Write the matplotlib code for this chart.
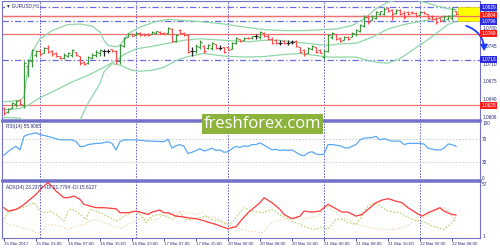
import matplotlib
matplotlib.use('Agg')
import matplotlib.pyplot as plt
from matplotlib.patches import Rectangle, FancyArrowPatch

# ---------------- data ----------------
opens = [1.0623,1.0614,1.0623,1.0630,1.0638,1.0628,1.0705,1.0715,1.0727,1.0735,1.0731,1.0741,1.0734,1.0731,1.0725,1.0722,1.0726,1.0728,1.0733,1.0725,1.0714,1.0711,1.0722,
         1.0727,1.0730,1.0734,1.0735,1.0738,1.0735,1.0716,1.0745,1.0762,1.0769,1.0766,1.0771,1.0768,1.0768,1.0769,1.0771,1.0773,1.0771,1.0770,1.0778,1.0755,1.0776,1.0771,1.0767,1.0735,1.0735,1.0743,1.0745,1.0740,1.0740,1.0748,1.0741,1.0742,1.0742,
         1.0739,1.0750,1.0758,1.0756,1.0761,1.0760,1.0764,1.0763,1.0771,1.0765,1.0759,1.0757,1.0751,1.0754,1.0751,1.0753,1.0755,1.0742,1.0736,1.0731,1.0738,1.0742,1.0737,1.0724,1.0734,1.0762,1.0768,1.0760,1.0756,1.0763,1.0762,1.0768,1.0775,1.0785,1.0802,1.0795,1.0800,1.0807,1.0808,1.0819,1.0816,1.0809,1.0816,
         1.0810,1.0811,1.0812,1.0809,1.0805,1.0812,1.0807,1.0803,1.0798,1.0799,1.0795,1.0798,1.0800,1.0813]
highs = [1.0625,1.0622,1.0635,1.0638,1.0641,1.0716,1.0720,1.0739,1.0736,1.0739,1.0743,1.0746,1.0736,1.0733,1.0726,1.0730,1.0733,1.0739,1.0733,1.0726,1.0716,1.0726,1.0730,
         1.0736,1.0739,1.0739,1.0739,1.0739,1.0736,1.0749,1.0762,1.0770,1.0770,1.0772,1.0772,1.0770,1.0771,1.0774,1.0775,1.0774,1.0772,1.0782,1.0780,1.0769,1.0778,1.0772,1.0769,1.0743,1.0749,1.0756,1.0746,1.0749,1.0752,1.0749,1.0746,1.0743,1.0743,
         1.0752,1.0762,1.0759,1.0762,1.0762,1.0765,1.0769,1.0775,1.0772,1.0769,1.0762,1.0759,1.0756,1.0756,1.0756,1.0757,1.0757,1.0743,1.0739,1.0743,1.0746,1.0743,1.0739,1.0736,1.0769,1.0772,1.0769,1.0762,1.0765,1.0765,1.0772,1.0778,1.0788,1.0805,1.0805,1.0805,1.0814,1.0814,1.0821,1.0821,1.0818,1.0818,1.0818,
         1.0814,1.0814,1.0814,1.0811,1.0814,1.0814,1.0808,1.0805,1.0801,1.0801,1.0805,1.0805,1.0821,1.0814]
lows = [1.0609,1.0612,1.0622,1.0625,1.0628,1.0622,1.0684,1.0703,1.0723,1.0726,1.0730,1.0730,1.0726,1.0723,1.0720,1.0720,1.0723,1.0723,1.0726,1.0707,1.0707,1.0710,1.0720,
        1.0723,1.0726,1.0726,1.0730,1.0733,1.0710,1.0710,1.0743,1.0762,1.0764,1.0765,1.0765,1.0765,1.0765,1.0769,1.0769,1.0769,1.0768,1.0769,1.0752,1.0752,1.0769,1.0765,1.0730,1.0726,1.0730,1.0739,1.0730,1.0739,1.0736,1.0739,1.0736,1.0730,1.0736,
        1.0739,1.0749,1.0752,1.0756,1.0759,1.0759,1.0759,1.0759,1.0762,1.0756,1.0749,1.0749,1.0746,1.0749,1.0746,1.0749,1.0743,1.0730,1.0726,1.0730,1.0736,1.0730,1.0730,1.0720,1.0733,1.0759,1.0756,1.0752,1.0756,1.0757,1.0762,1.0765,1.0772,1.0782,1.0788,1.0795,1.0798,1.0805,1.0805,1.0811,1.0795,1.0808,1.0805,
        1.0798,1.0805,1.0808,1.0801,1.0805,1.0808,1.0798,1.0795,1.0788,1.0792,1.0795,1.0795,1.0795,1.0805]
closes = [1.0612,1.0620,1.0632,1.0636,1.0630,1.0712,1.0717,1.0736,1.0734,1.0729,1.0740,1.0733,1.0729,1.0725,1.0722,1.0727,1.0730,1.0736,1.0728,1.0712,1.0710,1.0723,1.0728,
          1.0733,1.0737,1.0734,1.0735,1.0734,1.0716,1.0746,1.0760,1.0768,1.0765,1.0771,1.0767,1.0766,1.0766,1.0773,1.0774,1.0770,1.0769,1.0780,1.0755,1.0767,1.0771,1.0766,1.0733,1.0735,1.0745,1.0752,1.0734,1.0747,1.0750,1.0741,1.0741,1.0733,1.0737,
          1.0750,1.0760,1.0754,1.0761,1.0760,1.0764,1.0764,1.0772,1.0764,1.0758,1.0751,1.0751,1.0751,1.0750,1.0751,1.0753,1.0745,1.0733,1.0729,1.0740,1.0744,1.0733,1.0731,1.0734,1.0766,1.0770,1.0759,1.0755,1.0763,1.0758,1.0770,1.0776,1.0786,1.0802,1.0791,1.0803,1.0812,1.0813,1.0818,1.0813,1.0808,1.0816,1.0808,
          1.0802,1.0807,1.0809,1.0803,1.0812,1.0809,1.0800,1.0797,1.0791,1.0794,1.0803,1.0803,1.0818,1.0807]

bb_up_x = [0,4,5,6,7,9,12,16,19,22,24,25,26,28,29,31,34,38,41,45,50,55,60,65,70,75,80,83,87,90,93,96,99,102,105,108,111,113]
bb_up = [1.0635,1.0638,1.0645,1.0703,1.0733,1.0759,1.0775,1.0787,1.0788,1.0784,1.0772,1.0756,1.0746,1.0743,1.0746,1.0769,1.0782,1.0793,1.0797,1.0795,1.0792,1.0788,1.0782,1.0777,1.0775,1.0775,1.0777,1.0778,1.0785,1.0798,1.0818,1.0831,1.0837,1.0837,1.0831,1.0824,1.0818,1.0816]
bb_mid_x = [0,4,6,9,13,17,21,25,28,30,33,37,41,45,49,53,57,61,65,69,73,77,81,84,88,92,96,100,104,108,111,113]
bb_mid = [1.0619,1.0622,1.0628,1.0643,1.0658,1.0674,1.0687,1.0703,1.0716,1.0728,1.0739,1.0744,1.0750,1.0756,1.0759,1.0757,1.0755,1.0753,1.0756,1.0756,1.0752,1.0749,1.0746,1.0749,1.0750,1.0762,1.0778,1.0787,1.0793,1.0798,1.0803,1.0805]
bb_lo_x = [0,4,6,8,11,14,17,19,21,24,25,27,29,32,34,37,40,43,46,50,55,60,65,70,74,78,81,84,88,91,94,96,99,102,105,108,111,113]
bb_lo = [1.0604,1.0603,1.0590,1.0570,1.0560,1.0565,1.0585,1.0599,1.0632,1.0671,1.0694,1.0710,1.0707,1.0697,1.0695,1.0697,1.0703,1.0716,1.0724,1.0730,1.0725,1.0723,1.0724,1.0728,1.0730,1.0726,1.0723,1.0723,1.0723,1.0716,1.0712,1.0711,1.0720,1.0736,1.0752,1.0769,1.0787,1.0793]

rsi_x = [0,1,2,3,4,5,6,8,9,11,14,17,18,19,20,21,23,24,26,27,28,29,30,33,36,40,41,42,
         43,44,45,46,47,48,49,50,51,52,53,54,55,56,57,58,59,60,61,62,63,64,65,66,67,68,69,70,71,72,73,74,75,76,77,78,79,80,
         81,82,84,85,86,88,89,90,92,93,94,95,96,97,99,100,101,104,105,106,108,109,110,111,112,113]
rsi = [42,48,53,57,51,74,77,80,77,74,68,68,65,57,57,60,62,62,65,62,51,65,68,68,66,65,69,54,
       58,60,57,45,47,50,53,49,51,54,50,51,47,48,53,57,55,58,57,60,60,63,59,55,51,52,50,51,50,51,47,43,41,46,48,44,43,44,
       60,60,58,55,54,60,68,71,72,74,68,70,68,66,66,60,62,62,61,54,51,51,54,61,60,57]

adx_x = [0,1,3,4.5,6,8,9.5,11,12,13,15,16,17.5,19,20,21.5,23,25,28,29,31,33,34.5,36,37,39,40,41,43,44.5,46,48,49.5,51,53,54.5,56,58,59.5,61,62,64,65,67,69,70,72,74,75,77,79,80,81,83,84.5,86,88,89.5,91,93,94.5,96,98,99.5,101,103,104.5,106,108,109,110,112,113]
adx = [30.9,27.3,29.1,32.6,37.8,44.9,52.0,57.2,53.6,48.4,41.4,41.4,43.1,39.6,34.4,32.6,30.9,30.9,29.8,25.6,25.6,27.3,25.6,23.8,26.3,28.4,25.6,25.6,22.0,21.4,20.3,19.3,17.8,15.7,13.3,10.9,8.8,10.9,18.6,25.6,29.1,36.2,41.4,36.2,29.1,23.8,19.3,22.0,27.3,26.3,27.3,30.9,34.4,29.8,26.3,26.3,22.0,23.8,29.1,36.2,38.9,40.4,37.8,36.2,30.9,25.6,22.0,25.6,29.1,30.9,27.3,23.8,23.2]
pdi_x = [0,1,3,4.5,6,7.5,9,10.5,11.5,13,15,16,17,19,20.5,21.5,23,25,26.5,28,29.5,31,32.5,34,35.5,37,39,40.5,42,44,45.5,47,49,50.5,52,54,55.5,57,59,60,62,64.5,67,69.5,72,74,76,78,79.5,81,83,84.5,86,88,89.5,91,92.5,94,96,97.5,99,100.5,102,104,105.5,107,108.5,110,112,113]
pdi = [18.6,25.6,29.1,30.9,32.6,36.2,27.3,25.6,27.3,23.8,16.8,27.3,29.8,23.8,18.6,29.1,27.3,23.8,20.3,16.8,20.3,23.8,27.3,23.8,15.1,22.0,23.8,22.0,18.6,25.6,18.6,18.6,20.3,22.0,18.6,16.8,13.3,15.1,25.6,30.9,27.3,25.6,29.1,22.0,16.8,13.3,9.8,8.0,10.9,8.0,18.6,18.6,15.1,13.3,22.0,32.6,36.2,32.6,27.3,26.3,25.6,22.0,18.6,16.8,15.1,11.6,9.8,8.0,15.1,21.8]
mdi_x = [0,1,3,4.5,6,8,9,10.5,12,14,16,18,20,21.5,23,25,26.5,28,29.5,31,33,34.5,36,38,39.5,41,43,44.5,46,48,49.5,51,53,54.5,56,58,59.5,61,62,64.5,67,69.5,72,74.5,76.5,78.5,79.5,81,83,84.5,86,88,89.5,92,94,95.5,98,100.5,102,104,105.5,107,108.5,110,112,113]
mdi = [16.8,13.3,11.6,9.8,8.0,4.6,4.0,11.6,13.3,11.6,8.0,11.6,13.3,16.8,18.6,15.1,13.3,9.8,9.8,13.3,16.8,20.3,18.6,18.6,22.0,23.8,25.6,27.3,25.6,23.8,25.6,22.0,20.3,16.8,13.3,9.8,8.0,6.2,6.2,4.6,15.1,18.6,20.3,18.6,20.3,22.0,27.3,32.6,25.6,20.3,18.6,13.3,11.6,9.8,8.0,8.0,8.0,11.6,15.1,18.6,22.0,25.6,29.1,30.9,22.0,15.6]

x_tick_idx = [0,8,16,24,32,40,48,56,64,72,80,88,96,104,112]
x_tick_labels = ['15 Mar 2017','15 Mar 23:00','16 Mar 07:00','16 Mar 15:00','16 Mar 23:00','17 Mar 07:00','17 Mar 15:00',
                 '20 Mar 00:00','20 Mar 08:00','20 Mar 16:00','21 Mar 00:00','21 Mar 08:00','21 Mar 16:00','22 Mar 00:00','22 Mar 08:00']
day_sep_idx = [9,33,56,80,104]

price_ticks = [1.0606,1.0640,1.0675,1.0710,1.0745,1.0780,1.0815]
red_levels = [1.0804,1.0769,1.0628]
red_labels = ['1.0804','1.0769','1.0628']
blue_levels = [1.0821,1.0793,1.0718]
blue_labels = ['1.0829','1.0796','1.0718']
zone_top, zone_bottom = 1.0821, 1.0793
arrow_from = (114.9, 1.0786)
arrow_to = (120.0, 1.0729)

# ---------------- styling ----------------
FRAME = '#7272c8'
TXT = '#2b2b7a'
FONT = ['Liberation Sans', 'DejaVu Sans']
plt.rcParams['font.family'] = FONT
W, H = 500, 250
fig = plt.figure(figsize=(5, 2.5), dpi=100)
fig.patch.set_facecolor('white')

def ax_at(x0, y0, x1, y1):
    return fig.add_axes([x0 / W, 1 - y1 / H, (x1 - x0) / W, (y1 - y0) / H])

ax = ax_at(2, 0.5, 480, 120)
ar = ax_at(2, 121, 480, 180)
aa = ax_at(2, 181, 480, 238)

XMIN, XMAX = -0.5, 119
n = len(closes)
for a in (ax, ar, aa):
    a.set_xlim(XMIN, XMAX)
    a.set_facecolor('white')
    for s in a.spines.values():
        s.set_color(FRAME)
        s.set_linewidth(0.8)
    a.tick_params(axis='both', length=0, labelsize=3.4, colors=TXT, pad=1.5)
    a.set_xticks([])
    for d in day_sep_idx:
        a.axvline(d, color='#5a5ad0', lw=0.7, ls=(0, (1.5, 1.5)), zorder=1)
    a.yaxis.tick_right()

ax.spines['bottom'].set_linewidth(1.8)
ar.spines['top'].set_linewidth(1.8)
ar.spines['bottom'].set_linewidth(1.8)
aa.spines['top'].set_linewidth(1.8)

# main panel
ax.set_ylim(1.05992, 1.08342)
ax.set_yticks(price_ticks)
ax.set_yticklabels([f'{p:.4f}' for p in price_ticks])
for lvl in red_levels:
    ax.axhline(lvl, color='#f07070', lw=0.9, zorder=2)
for lvl in blue_levels:
    ax.axhline(lvl, color='#6a6ae6', lw=0.9, ls=(0, (5, 2, 1, 2)), zorder=2)

ax.plot(bb_up_x, bb_up, color='#8fd6a8', lw=0.9, zorder=3)
ax.plot(bb_mid_x, bb_mid, color='#8fd6a8', lw=0.9, zorder=3)
ax.plot(bb_lo_x, bb_lo, color='#8fd6a8', lw=0.9, zorder=3)

xs = list(range(n))
cols = []
for o, c in zip(opens, closes):
    cols.append('#3c963c' if c > o else ('#ff4d4d' if c < o else '#222222'))
ax.vlines(xs, lows, highs, colors=cols, lw=0.9, zorder=4)
ax.hlines(opens, [x - 0.45 for x in xs], xs, colors=cols, lw=0.8, zorder=4)
ax.hlines(closes, xs, [x + 0.45 for x in xs], colors=cols, lw=0.8, zorder=4)

ax.add_patch(Rectangle((n - 0.5, zone_bottom), XMAX - (n - 0.5), zone_top - zone_bottom,
                       facecolor='#ffff00', edgecolor='#e0d000', lw=0.5, zorder=3))
ax.axhline(red_levels[0], color='#f07070', lw=0.9, zorder=3.5)

arr = FancyArrowPatch(arrow_from, arrow_to, connectionstyle='arc3,rad=-0.4',
                      arrowstyle='-|>,head_length=3.5,head_width=2', color='#1f3fff', lw=1.3,
                      clip_on=False, zorder=10)
ax.add_patch(arr)

tr = ax.get_yaxis_transform()
for lvl, lab in zip(red_levels, red_labels):
    ax.text(1.003, lvl, lab, transform=tr, fontsize=3.4, color='white', va='center', ha='left',
            bbox=dict(boxstyle='square,pad=0.25', fc='#ff1a1a', ec='none'), zorder=11, clip_on=False)
for lvl, lab in zip(blue_levels, blue_labels):
    ax.text(1.003, lvl, lab, transform=tr, fontsize=3.4, color='white', va='center', ha='left',
            bbox=dict(boxstyle='square,pad=0.25', fc='#2a2ae0', ec='none'), zorder=11, clip_on=False)

ax.text(0.008, 0.955, '\u25BC EURUSD,H1', transform=ax.transAxes, fontsize=3.4, color=TXT,
        va='center', ha='left', bbox=dict(boxstyle='square,pad=0.1', fc='white', ec='none'), zorder=12)

# RSI panel
ar.set_ylim(0, 100)
ar.set_yticks([3, 30, 70, 96])
ar.set_yticklabels(['0', '30', '70', '100'])
for lv in (30, 70):
    ar.axhline(lv, color='#c8c8c8', lw=0.6, ls=(0, (2, 2)), zorder=1)
ar.plot(rsi_x, rsi, color='#5aa8f5', lw=0.9, zorder=3)
ar.text(0.008, 0.9, 'RSI(14) 55.9065', transform=ar.transAxes, fontsize=3.4, color=TXT, va='center', ha='left')

# ADX panel
aa.set_ylim(-1, 59)
aa.set_yticks([1, 56])
aa.set_yticklabels(['1', '57'])
aa.plot(mdi_x, mdi, color='#f5d8b8', lw=0.8, ls=(0, (1.5, 1.5)), zorder=2)
aa.plot(pdi_x, pdi, color='#b0d468', lw=0.8, ls=(0, (1.5, 1.5)), zorder=2)
aa.plot(adx_x, adx, color='#ff3a3a', lw=0.9, zorder=3)
aa.text(0.008, 0.88, 'ADX(14) 23.2379 +DI:21.7794 -DI:15.6127', transform=aa.transAxes, fontsize=3.4,
        color=TXT, va='center', ha='left')

aa.set_xticks(x_tick_idx)
aa.set_xticklabels(x_tick_labels, ha='left')
aa.tick_params(axis='x', length=2, width=0.6, colors=TXT, labelsize=3.2, pad=1, direction='out')

# watermark
fig.text(262.5 / W, 1 - 124 / H, 'freshforex.com', fontsize=12, color='white', ha='center', va='center',
         family='Open Sans',
         bbox=dict(boxstyle='square,pad=0.12', fc='#8cb43c', ec='none'), zorder=20)

fig.savefig('out.png', dpi=100, facecolor='white')
